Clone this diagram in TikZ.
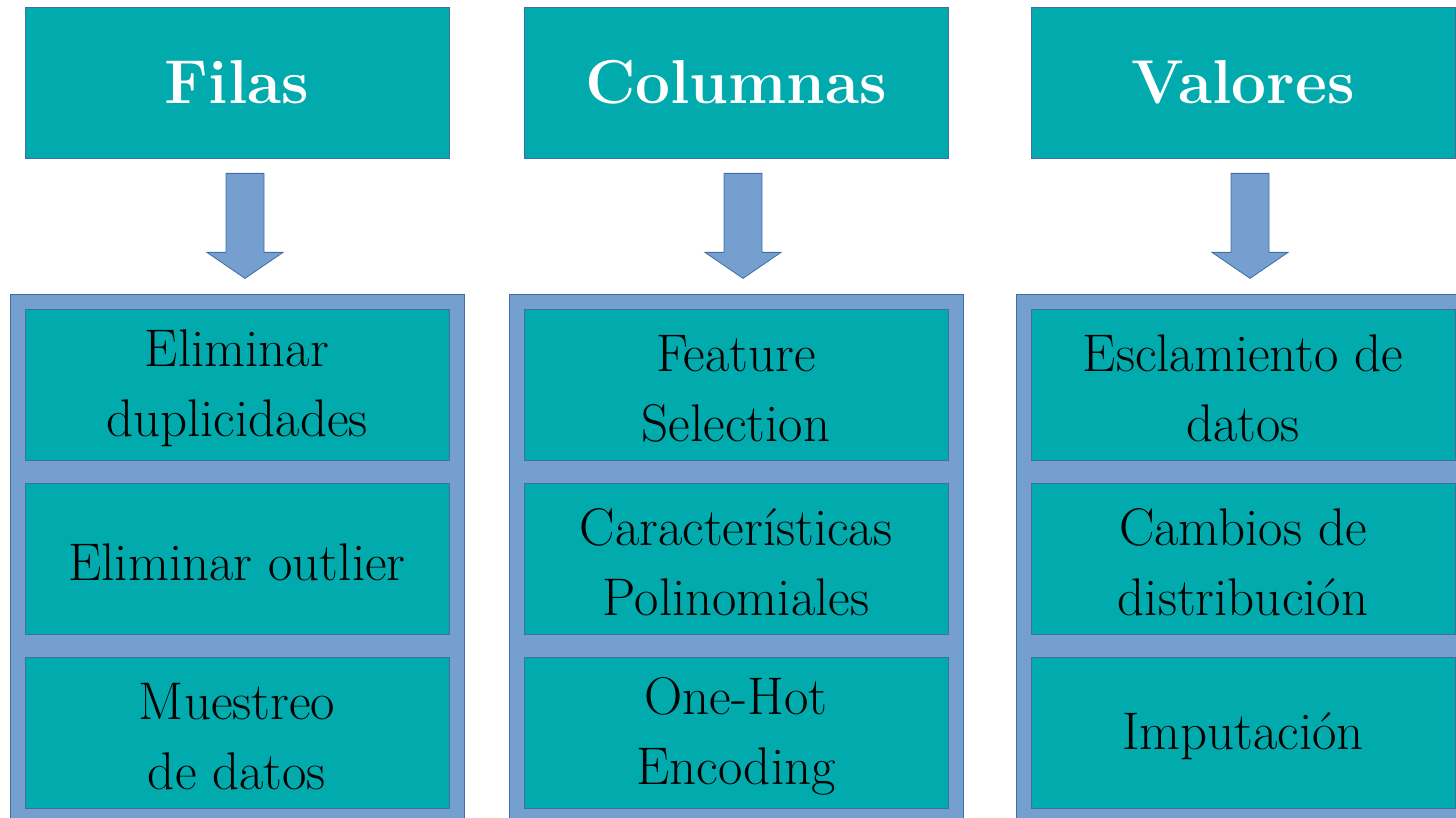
\documentclass[tikz,border=0pt]{standalone}
\usetikzlibrary{calc}
\definecolor{tealbox}{RGB}{0,170,173}
\definecolor{panelblue}{RGB}{116,159,207}
\definecolor{edgeblue}{RGB}{65,110,165}
\tikzset{
  hdr/.style={draw=edgeblue, line width=0.8pt, fill=tealbox, minimum width=424pt, minimum height=151pt, inner sep=0pt, text=white, font=\fontsize{62}{72}\selectfont\bfseries},
  itembox/.style={draw=edgeblue, line width=0.8pt, fill=tealbox, minimum width=424pt, minimum height=151pt, inner sep=0pt},
  itemtext/.style={align=center, inner sep=0pt, text=black, font=\fontsize{53}{70}\selectfont},
  panelbox/.style={draw=edgeblue, line width=0.8pt, fill=panelblue},
  arrowst/.style={draw=edgeblue, line width=0.8pt, fill=panelblue, line join=miter},
  blockarr/.pic={\draw[arrowst] (-19,0) -- (19,0) -- (19,79) -- (38,79) -- (0,105) -- (-38,79) -- (-19,79) -- cycle;}
}
\begin{document}
\begin{tikzpicture}[x=1pt,y=-1pt]
\useasboundingbox (0,0) rectangle (1456,818);
\clip (0,0) rectangle (1456,818);
% headers
\node[hdr] (h1) at (237,82.5) {Filas};
\node[hdr] (h2) at (736,82.5) {Columnas};
\node[hdr] (h3) at (1243,82.5) {Valores};
% panels
\draw[panelbox] (10,294) coordinate (p1) rectangle (464,840);
\draw[panelbox] (509,294) coordinate (p2) rectangle (963,840);
\draw[panelbox] (1016,294) coordinate (p3) rectangle (1470,840);
% arrows
\pic at ($(h1.south)+(8,15)$) {blockarr};
\pic at ($(h2.south)+(7,15)$) {blockarr};
\pic at ($(h3.south)+(7,15)$) {blockarr};
% item boxes
\node[itembox] (a1) at (237,384.5) {};
\node[itembox] (a2) at (237,558.5) {};
\node[itembox] (a3) at (237,732.5) {};
\node[itembox] (b1) at (736,384.5) {};
\node[itembox] (b2) at (736,558.5) {};
\node[itembox] (b3) at (736,732.5) {};
\node[itembox] (c1) at (1243,384.5) {};
\node[itembox] (c2) at (1243,558.5) {};
\node[itembox] (c3) at (1243,732.5) {};
% item texts
\node[itemtext] (ta1) at ($(a1)+(0,4)$) {Eliminar\\duplicidades};
\node[itemtext] (ta2) at ($(a2)+(0,4)$) {Eliminar outlier};
\node[itemtext] (ta3) at ($(a3)+(0,4)$) {Muestreo\\de datos};
\node[itemtext] (tb1) at ($(b1)+(0,4)$) {Feature\\Selection};
\node[itemtext] (tb2) at ($(b2)+(0,4)$) {Características\\Polinomiales};
\node[itemtext] (tb3) at ($(b3)+(0,4)$) {One-Hot\\Encoding};
\node[itemtext] (tc1) at ($(c1)+(0,4)$) {Esclamiento de\\datos};
\node[itemtext] (tc2) at ($(c2)+(0,4)$) {Cambios de\\distribución};
\node[itemtext] (tc3) at ($(c3)+(0,4)$) {Imputación};
\end{tikzpicture}
\end{document}
